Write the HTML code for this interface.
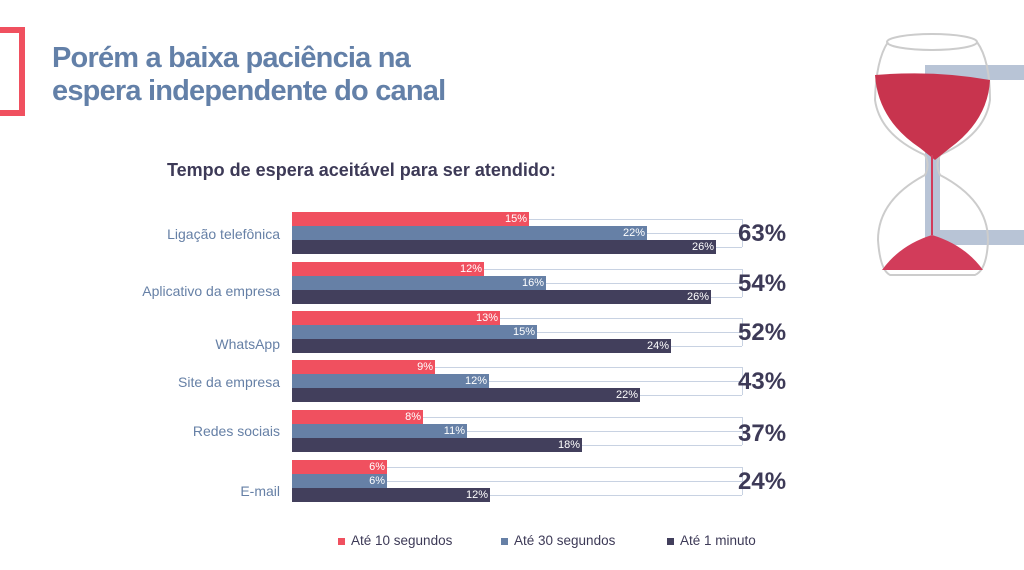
<!DOCTYPE html>
<html><head><meta charset="utf-8"><style>
body{margin:0;width:1024px;height:570px;background:#fff;position:relative;overflow:hidden;font-family:"Liberation Sans",sans-serif}
.a{position:absolute}
.bar{position:absolute;left:292px;height:14px;box-sizing:border-box;color:#fff;font-size:11px;line-height:14px;text-align:right;padding-right:2px}
.r{background:#f0505f}.b{background:#6680a6}.d{background:#423f5c}
.ln{position:absolute;height:1px;background:#c8d2e2}
.vl{position:absolute;width:1px;background:#c8d2e2;left:742px}
.cat{position:absolute;right:744px;color:#6680a6;font-size:14px;white-space:nowrap}
.tot{position:absolute;left:738px;color:#3d3a57;font-size:24px;font-weight:bold}
.lg{position:absolute;top:533px;font-size:13.5px;color:#3d3a57}
.lg i{display:inline-block;width:7px;height:7px;margin-right:6px}
</style></head><body>
<div class="a" style="left:-6px;top:27px;width:25px;height:77px;border:6px solid #f0505f;border-left:none"></div>
<div class="a" style="left:52px;top:42px;font-size:29px;font-weight:bold;color:#6380a8;line-height:33px;letter-spacing:-0.8px">Porém a baixa paciência na<br>espera independente do canal</div>
<div class="a" style="left:167px;top:160px;font-size:18px;font-weight:bold;color:#3d3a57">Tempo de espera aceitável para ser atendido:</div>

<svg class="a" style="left:840px;top:20px" width="184" height="280">
<rect x="85" y="45" width="99" height="15" fill="#b8c4d6"/>
<rect x="85" y="45" width="15" height="180" fill="#b8c4d6"/>
<rect x="85" y="210" width="99" height="15" fill="#b8c4d6"/>
<ellipse cx="92" cy="22" rx="45" ry="8" fill="none" stroke="#ccc" stroke-width="2"/>
<path d="M48,22 Q36,40 35,80 Q40,115 85,135 Q90,145 85,155 Q38,180 38,220 Q40,250 50,255 L135,255 Q147,250 148,220 Q148,180 100,155 Q95,145 100,135 Q145,115 150,80 Q150,40 137,22" fill="none" stroke="#ccc" stroke-width="2"/>
<path d="M35,55 Q95,50 150,60 Q148,100 110,128 L95,140 L80,128 Q38,100 35,55 Z" fill="#c8344e"/>
<path d="M42,250 Q60,225 92,215 Q125,225 143,250 Z" fill="#d23c5a"/>
<rect x="91" y="135" width="2" height="80" fill="#d23c5a"/>
</svg>

<div class="ln" style="left:529px;width:213px;top:219px"></div>
<div class="ln" style="left:647px;width:95px;top:233px"></div>
<div class="ln" style="left:716px;width:26px;top:247px"></div>
<div class="vl" style="top:219px;height:28px"></div>
<div class="ln" style="left:484px;width:258px;top:269px"></div>
<div class="ln" style="left:546px;width:196px;top:283px"></div>
<div class="ln" style="left:711px;width:31px;top:297px"></div>
<div class="vl" style="top:269px;height:28px"></div>
<div class="ln" style="left:500px;width:242px;top:318px"></div>
<div class="ln" style="left:537px;width:205px;top:332px"></div>
<div class="ln" style="left:671px;width:71px;top:346px"></div>
<div class="vl" style="top:318px;height:28px"></div>
<div class="ln" style="left:435px;width:307px;top:367px"></div>
<div class="ln" style="left:489px;width:253px;top:381px"></div>
<div class="ln" style="left:640px;width:102px;top:395px"></div>
<div class="vl" style="top:367px;height:28px"></div>
<div class="ln" style="left:423px;width:319px;top:417px"></div>
<div class="ln" style="left:467px;width:275px;top:431px"></div>
<div class="ln" style="left:582px;width:160px;top:445px"></div>
<div class="vl" style="top:417px;height:28px"></div>
<div class="ln" style="left:387px;width:355px;top:467px"></div>
<div class="ln" style="left:387px;width:355px;top:481px"></div>
<div class="ln" style="left:490px;width:252px;top:495px"></div>
<div class="vl" style="top:467px;height:28px"></div>

<div class="bar r" style="top:212px;width:237px">15%</div>
<div class="bar b" style="top:226px;width:355px">22%</div>
<div class="bar d" style="top:240px;width:424px">26%</div>
<div class="bar r" style="top:262px;width:192px">12%</div>
<div class="bar b" style="top:276px;width:254px">16%</div>
<div class="bar d" style="top:290px;width:419px">26%</div>
<div class="bar r" style="top:311px;width:208px">13%</div>
<div class="bar b" style="top:325px;width:245px">15%</div>
<div class="bar d" style="top:339px;width:379px">24%</div>
<div class="bar r" style="top:360px;width:143px">9%</div>
<div class="bar b" style="top:374px;width:197px">12%</div>
<div class="bar d" style="top:388px;width:348px">22%</div>
<div class="bar r" style="top:410px;width:131px">8%</div>
<div class="bar b" style="top:424px;width:175px">11%</div>
<div class="bar d" style="top:438px;width:290px">18%</div>
<div class="bar r" style="top:460px;width:95px">6%</div>
<div class="bar b" style="top:474px;width:95px">6%</div>
<div class="bar d" style="top:488px;width:198px">12%</div>

<div class="cat" style="top:226px">Ligação telefônica</div>
<div class="cat" style="top:283px">Aplicativo da empresa</div>
<div class="cat" style="top:336px">WhatsApp</div>
<div class="cat" style="top:374px">Site da empresa</div>
<div class="cat" style="top:423px">Redes sociais</div>
<div class="cat" style="top:483px">E-mail</div>

<div class="tot" style="top:220px">63%</div>
<div class="tot" style="top:270px">54%</div>
<div class="tot" style="top:319px">52%</div>
<div class="tot" style="top:368px">43%</div>
<div class="tot" style="top:420px">37%</div>
<div class="tot" style="top:468px">24%</div>

<div class="lg" style="left:338px"><i style="background:#f0505f"></i>Até 10 segundos</div>
<div class="lg" style="left:501px"><i style="background:#6680a6"></i>Até 30 segundos</div>
<div class="lg" style="left:667px"><i style="background:#423f5c"></i>Até 1 minuto</div>
</body></html>
